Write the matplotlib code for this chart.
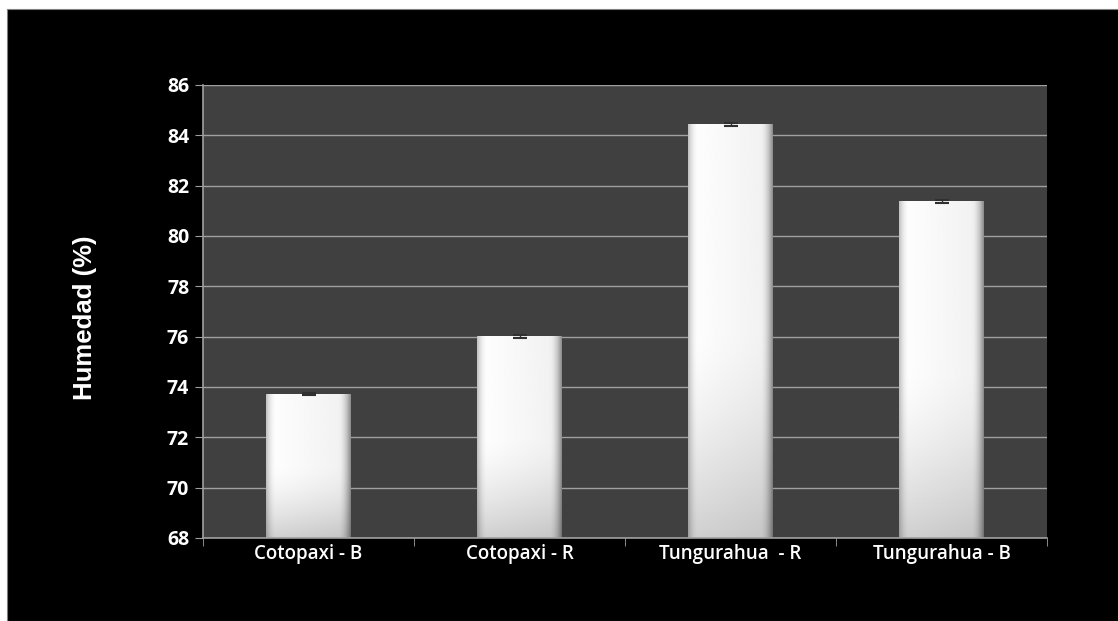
import numpy as np
import matplotlib
matplotlib.use('Agg')
import matplotlib.pyplot as plt
from matplotlib.patches import Rectangle

# humidity per sample
categories = ['Cotopaxi - B', 'Cotopaxi - R', 'Tungurahua  - R', 'Tungurahua - B']
humidity = [73.72, 76.0, 84.42, 81.37]
errors = [0.05, 0.05, 0.06, 0.05]
yticks = [68, 70, 72, 74, 76, 78, 80, 82, 84, 86]

fig = plt.figure(figsize=(11.18, 6.21), dpi=100, facecolor='white')
# black panel with a thin white margin on top and left
fig.patches.append(Rectangle((7 / 1118, 0), 1, 1 - 9 / 621, transform=fig.transFigure,
                             facecolor='black', edgecolor='#808080', lw=0.8, zorder=-10))

ax = fig.add_axes([0.1816, 0.1337, 0.755, 0.7295])
ax.set_facecolor('#404040')

x = np.arange(len(categories))
width = 0.4

# shaded bar fill: white centre, grey edges, greyer towards the base
h = np.linspace(0, 1, 200)
horiz = 1 - 0.25 * np.clip(1 - h / 0.12, 0, 1) ** 2 - 0.4 * np.clip((h - 0.85) / 0.15, 0, 1) ** 2
horiz -= 0.06 * h
v = np.linspace(0, 1, 200)[:, None]
vert = 1 - 0.18 * np.clip(1 - v / 0.5, 0, 1) ** 1.5
shade = np.clip(horiz[None, :] * vert, 0, 1)

for xi, val in zip(x, humidity):
    ax.imshow(shade, cmap='gray', vmin=0, vmax=1, origin='lower', aspect='auto',
              extent=(xi - width / 2, xi + width / 2, 68, val), zorder=2,
              interpolation='bilinear')

ax.errorbar(x, humidity, yerr=errors, fmt='none', ecolor='#303030', elinewidth=1,
            capsize=5, capthick=1.5, zorder=3)

ax.set_xlim(-0.5, len(categories) - 0.5)
ax.set_ylim(68, 86)
ax.set_yticks(yticks)
ax.yaxis.grid(True, color='#a0a0a0', lw=1)
ax.set_axisbelow(True)

ax.set_xticks(x)
ax.set_xticklabels(categories, fontsize=13.5, fontweight='semibold', color='white',
                   family='Open Sans')
ax.set_xticks(np.arange(-0.5, len(categories)), minor=True)
ax.tick_params(axis='x', which='major', length=0, pad=4)
ax.tick_params(axis='x', which='minor', length=6, color='#a0a0a0', direction='out')
ax.tick_params(axis='y', length=6, color='#a0a0a0', direction='out', pad=4)
for lbl in ax.get_yticklabels():
    lbl.set_fontsize(14)
    lbl.set_fontweight('bold')
    lbl.set_color('white')
    lbl.set_family('Open Sans')

for side in ['top', 'right']:
    ax.spines[side].set_visible(False)
for side in ['left', 'bottom']:
    ax.spines[side].set_color('#a0a0a0')
    ax.spines[side].set_linewidth(1.2)

fig.text(0.076, 0.488, 'Humedad (%)', rotation=90, ha='center', va='center',
         fontsize=18.5, fontweight='bold', color='white', family='Liberation Sans')

fig.savefig('out.png', dpi=100, facecolor=fig.get_facecolor())
